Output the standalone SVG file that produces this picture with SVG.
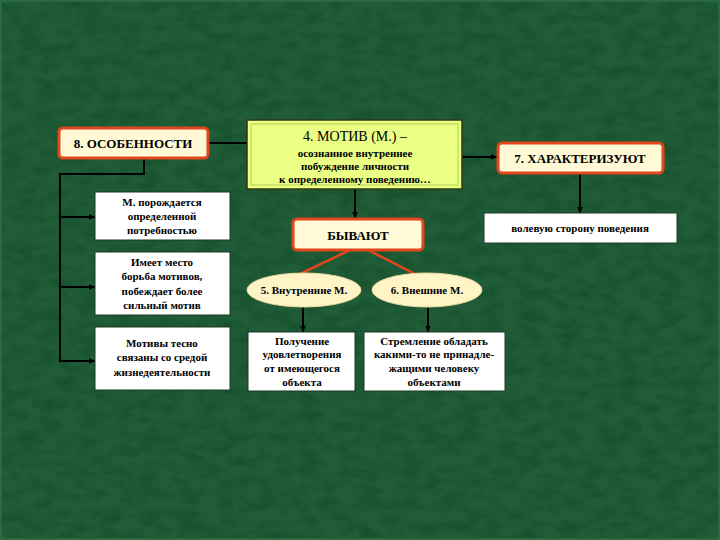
<svg xmlns="http://www.w3.org/2000/svg" width="720" height="540" viewBox="0 0 720 540">
<defs>
<filter id="tex" x="0" y="0" width="100%" height="100%" color-interpolation-filters="sRGB">
<feTurbulence type="fractalNoise" baseFrequency="0.05 0.09" numOctaves="3" seed="7" result="n"/>
<feColorMatrix in="n" type="matrix" values="0 0 0 0 0.08  0 0 0 0 0.30  0 0 0 0 0.17  0 0 0 -1.6 1.0" result="c"/>
<feComposite in="c" in2="SourceGraphic" operator="over"/>
</filter>
<marker id="ah" viewBox="0 0 10 10" refX="9" refY="5" markerWidth="7" markerHeight="7" orient="auto" markerUnits="userSpaceOnUse">
<path d="M0,1 L10,5 L0,9 Z" fill="#000"/>
</marker>
<style>
.t{font-family:"Liberation Serif","Times New Roman",serif;font-weight:bold;fill:#000;text-anchor:middle}
.hd{font-size:13px}
.sm{font-size:11px}
.or{fill:#fff9d6;stroke:#e2461c;stroke-width:3}
.wb{fill:#ffffff;stroke:#1a3a22;stroke-width:1}
.el{fill:#fff4c6;stroke:#e8d79a;stroke-width:1}
.ln{fill:none;stroke:#000;stroke-width:2}
.rl{fill:none;stroke:#e2461c;stroke-width:2.5}
</style>
</defs>
<rect x="0" y="0" width="720" height="540" fill="#1f5c37" filter="url(#tex)"/>
<rect x="1" y="1" width="718" height="538" fill="none" stroke="#2a6a43" stroke-width="2"/>

<g id="connectors">
<line class="ln" x1="208" y1="143" x2="247" y2="143"/>
<line class="ln" x1="462" y1="157" x2="497" y2="157" marker-end="url(#ah)"/>
<line class="ln" x1="580" y1="173" x2="580" y2="213" marker-end="url(#ah)"/>
<line class="ln" x1="355" y1="189" x2="355" y2="218" marker-end="url(#ah)"/>
<polyline class="ln" points="144,158 144,174 60,174 60,362"/>
<line class="ln" x1="60" y1="217" x2="95" y2="217" marker-end="url(#ah)"/>
<line class="ln" x1="60" y1="287" x2="95" y2="287" marker-end="url(#ah)"/>
<line class="ln" x1="60" y1="361" x2="95" y2="361" marker-end="url(#ah)"/>
<line class="rl" x1="350" y1="250" x2="300" y2="274"/>
<line class="rl" x1="368" y1="250" x2="415" y2="274"/>
<line class="ln" x1="303" y1="307" x2="303" y2="332" marker-end="url(#ah)"/>
<line class="ln" x1="428" y1="307" x2="428" y2="332" marker-end="url(#ah)"/>
</g>

<g id="n8">
<rect class="or" x="59" y="128" width="149" height="30" rx="4"/>
<text class="t hd" x="133" y="148">8. ОСОБЕННОСТИ</text>
</g>

<g id="n4">
<rect x="247" y="120" width="215" height="69" fill="#eaff84" stroke="#2a3a10" stroke-width="1.5"/>
<rect x="251" y="124" width="207" height="61" fill="none" stroke="#b8cc50" stroke-width="1"/>
<text class="t" x="355" y="141" style="font-size:14px;font-weight:normal">4. МОТИВ (М.) –</text>
<text class="t sm" x="355" y="157">осознанное внутреннее</text>
<text class="t sm" x="355" y="170">побуждение личности</text>
<text class="t sm" x="355" y="183">к определенному поведению…</text>
</g>

<g id="n7">
<rect class="or" x="498" y="143" width="165" height="30" rx="4"/>
<text class="t hd" x="580" y="163">7. ХАРАКТЕРИЗУЮТ</text>
</g>

<g id="n7a">
<rect class="wb" x="484" y="213" width="193" height="30"/>
<text class="t sm" x="580" y="232">волевую сторону поведения</text>
</g>

<g id="nB">
<rect class="or" x="293" y="219" width="130" height="31" rx="4"/>
<text class="t hd" x="358" y="240">БЫВАЮТ</text>
</g>

<g id="n5">
<ellipse class="el" cx="304" cy="290" rx="57" ry="17"/>
<text class="t sm" x="304" y="294">5. Внутренние М.</text>
</g>

<g id="n6">
<ellipse class="el" cx="427" cy="290" rx="55" ry="17"/>
<text class="t sm" x="427" y="294">6. Внешние М.</text>
</g>

<g id="n5a">
<rect class="wb" x="248" y="332" width="107" height="59"/>
<text class="t sm" x="302" y="345">Получение</text>
<text class="t sm" x="302" y="358">удовлетворения</text>
<text class="t sm" x="302" y="372">от имеющегося</text>
<text class="t sm" x="302" y="386">объекта</text>
</g>

<g id="n6a">
<rect class="wb" x="364" y="332" width="141" height="59"/>
<text class="t sm" x="434" y="345">Стремление обладать</text>
<text class="t sm" x="434" y="358">какими-то не принадле-</text>
<text class="t sm" x="434" y="372">жащими человеку</text>
<text class="t sm" x="434" y="386">объектами</text>
</g>

<g id="nA">
<rect class="wb" x="95" y="192" width="135" height="48"/>
<text class="t sm" x="162" y="206">М. порождается</text>
<text class="t sm" x="162" y="220">определенной</text>
<text class="t sm" x="162" y="234">потребностью</text>
</g>

<g id="nBx">
<rect class="wb" x="95" y="252" width="135" height="63"/>
<text class="t sm" x="162" y="266">Имеет место</text>
<text class="t sm" x="162" y="280">борьба мотивов,</text>
<text class="t sm" x="162" y="295">побеждает более</text>
<text class="t sm" x="162" y="309">сильный мотив</text>
</g>

<g id="nC">
<rect class="wb" x="95" y="327" width="135" height="63"/>
<text class="t sm" x="162" y="347">Мотивы тесно</text>
<text class="t sm" x="162" y="361">связаны со средой</text>
<text class="t sm" x="162" y="376">жизнедеятельности</text>
</g>
</svg>
